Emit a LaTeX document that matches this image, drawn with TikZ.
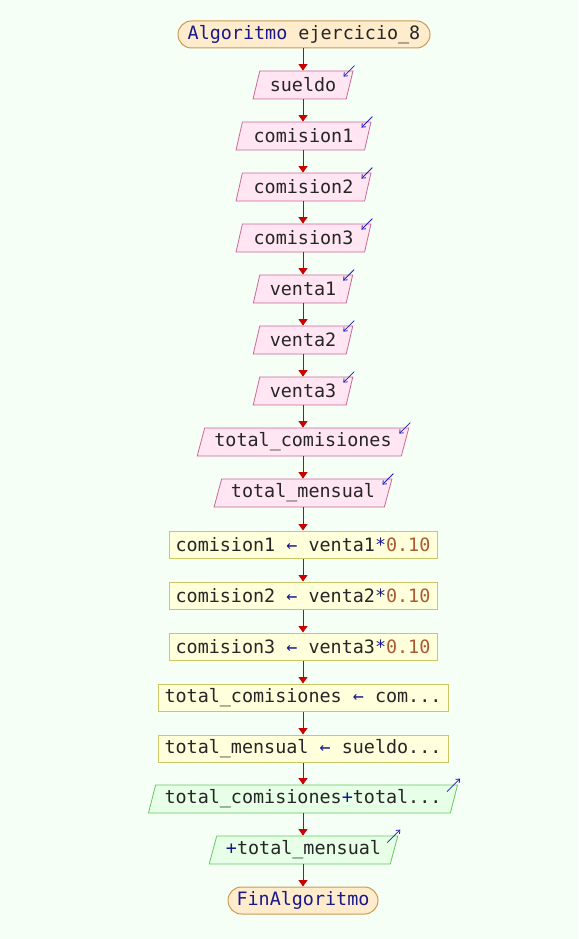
\documentclass[tikz,border=0pt]{standalone}
\usepackage{fontspec}
\setmonofont{DejaVu Sans Mono}
\usetikzlibrary{shapes.geometric,arrows.meta,calc}

\definecolor{bgcol}{RGB}{245,255,245}
\definecolor{termfill}{RGB}{255,236,204}
\definecolor{termdraw}{RGB}{204,153,85}
\definecolor{infill}{RGB}{255,230,242}
\definecolor{indraw}{RGB}{204,102,153}
\definecolor{procfill}{RGB}{255,255,220}
\definecolor{procdraw}{RGB}{200,200,100}
\definecolor{outfill}{RGB}{230,255,230}
\definecolor{outdraw}{RGB}{100,200,100}
\definecolor{flowcol}{RGB}{200,0,0}
\definecolor{kwcol}{RGB}{25,25,140}
\definecolor{numcol}{RGB}{170,90,50}
\definecolor{iocol}{RGB}{30,30,190}

\newcommand{\kw}[1]{\textcolor{kwcol}{#1}}
\newcommand{\num}[1]{\textcolor{numcol}{#1}}

\tikzset{
  every node/.style={font=\ttfamily\fontsize{18.4}{20}\selectfont, text=black!85, inner sep=0pt},
  terminal/.style={rounded corners=13.5pt, draw=termdraw, fill=termfill, line width=1pt,
    minimum height=27pt},
  inbox/.style={trapezium, trapezium left angle=70, trapezium right angle=110,
    trapezium stretches=true, draw=indraw, fill=infill, line width=0.8pt, minimum height=28pt},
  outbox/.style={trapezium, trapezium left angle=70, trapezium right angle=110,
    trapezium stretches=true, draw=outdraw, fill=outfill, line width=0.8pt, minimum height=28pt},
  procbox/.style={rectangle, draw=procdraw, fill=procfill, line width=1pt, minimum height=27pt},
  flow/.style={draw=flowcol, line width=0.9pt, -{Triangle[width=9pt,length=6.5pt]}},
  ioicon/.style={draw=iocol, line width=0.8pt, -{Straight Barb[width=5pt,length=3pt]}}
}

\begin{document}
\begin{tikzpicture}[x=1pt,y=-1pt]
  \fill[bgcol] (0,0) rectangle (578,939);
  \useasboundingbox (0,0) rectangle (578,939);

  \node[terminal, minimum width=252pt] (start) at (304,34.5) {\kw{Algoritmo} ejercicio\_8};

  \node[inbox, minimum width=100pt] (r1) at (303,85)  {sueldo};
  \node[inbox, minimum width=135pt] (r2) at (303.5,136) {comision1};
  \node[inbox, minimum width=135pt] (r3) at (303.5,187) {comision2};
  \node[inbox, minimum width=135pt] (r4) at (303.5,238) {comision3};
  \node[inbox, minimum width=100pt] (r5) at (303,289) {venta1};
  \node[inbox, minimum width=100pt] (r6) at (303,340) {venta2};
  \node[inbox, minimum width=100pt] (r7) at (303,391) {venta3};
  \node[inbox, minimum width=212pt] (r8) at (303,442) {total\_comisiones};
  \node[inbox, minimum width=178pt] (r9) at (303,493) {total\_mensual};

  \node[procbox, minimum width=268pt] (a1) at (303,544.5) {comision1 \kw{←} venta1\kw{*}\num{0.10}};
  \node[procbox, minimum width=268pt] (a2) at (303,595.5) {comision2 \kw{←} venta2\kw{*}\num{0.10}};
  \node[procbox, minimum width=268pt] (a3) at (303,646.5) {comision3 \kw{←} venta3\kw{*}\num{0.10}};
  \node[procbox, minimum width=290pt] (a4) at (303,697.5) {total\_comisiones \kw{←} com...};
  \node[procbox, minimum width=290pt] (a5) at (303,748.5) {total\_mensual \kw{←} sueldo...};

  \node[outbox, minimum width=310pt] (w1) at (303,799) {total\_comisiones\kw{+}total...};
  \node[outbox, minimum width=189pt] (w2) at (303.5,850) {\kw{+}total\_mensual};

  \node[terminal, minimum width=150pt] (fin) at (303,900.5) {\kw{FinAlgoritmo}};

  % connectors down the main flow
  \foreach \a/\b in {start/r1,r1/r2,r2/r3,r3/r4,r4/r5,r5/r6,r6/r7,r7/r8,r8/r9,
                     r9/a1,a1/a2,a2/a3,a3/a4,a4/a5,a5/w1,w1/w2,w2/fin}
    \draw[flow] (\a.south -| 303,0) -- (\b.north -| 303,0);

  % read markers
  \foreach \n in {r1,r2,r3,r4,r5,r6,r7,r8,r9}
    \draw[ioicon] ($(\n.top right corner)+(1,-5)$) -- ($(\n.top right corner)+(-10,6)$);

  % write markers
  \foreach \n in {w1,w2}
    \draw[ioicon] ($(\n.top right corner)+(-11,7)$) -- ($(\n.top right corner)+(2,-6)$);
\end{tikzpicture}
\end{document}
